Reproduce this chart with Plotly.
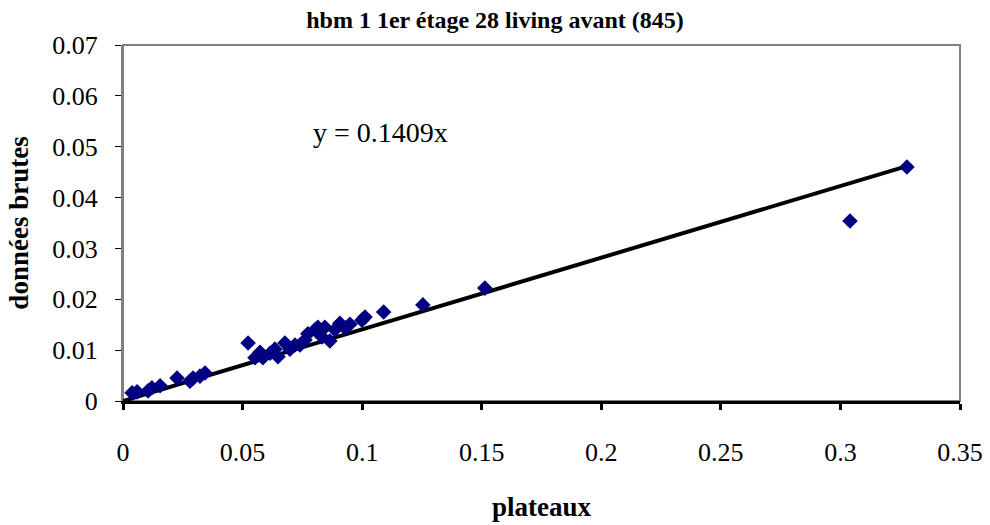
import plotly.graph_objects as go

plateaux = [0.0038, 0.0059, 0.0105, 0.0121, 0.0155, 0.0226, 0.0280, 0.0293, 0.0322, 0.0343,
            0.0523, 0.0552, 0.0573, 0.0585, 0.0615, 0.0635, 0.0648, 0.0677, 0.0698, 0.0719,
            0.0740, 0.0761, 0.0773, 0.0803, 0.0815, 0.0832, 0.0844, 0.0865, 0.0886, 0.0907,
            0.0928, 0.0949, 0.0999, 0.1012, 0.1090, 0.1254, 0.1513, 0.3040, 0.3278]
donnees = [0.0016, 0.0018, 0.0020, 0.0026, 0.0030, 0.0045, 0.0039, 0.0045, 0.0049, 0.0055,
           0.0114, 0.0085, 0.0096, 0.0085, 0.0094, 0.0102, 0.0087, 0.0114, 0.0102, 0.0110,
           0.0110, 0.0120, 0.0132, 0.0140, 0.0145, 0.0126, 0.0145, 0.0118, 0.0140, 0.0153,
           0.0144, 0.0151, 0.0159, 0.0165, 0.0175, 0.0189, 0.0222, 0.0354, 0.0460]
slope = 0.1409
x_ticks = [0, 0.05, 0.1, 0.15, 0.2, 0.25, 0.3, 0.35]
x_labels = ["0", "0.05", "0.1", "0.15", "0.2", "0.25", "0.3", "0.35"]
y_ticks = [0, 0.01, 0.02, 0.03, 0.04, 0.05, 0.06, 0.07]
y_labels = ["0", "0.01", "0.02", "0.03", "0.04", "0.05", "0.06", "0.07"]

FONT = "Liberation Serif, Times New Roman, serif"
xmax = max(plateaux)

fig = go.Figure()
fig.add_trace(go.Scatter(x=[0, xmax], y=[0, slope * xmax], mode="lines",
                         line=dict(color="black", width=4), showlegend=False, hoverinfo="skip"))
fig.add_trace(go.Scatter(x=plateaux, y=donnees, mode="markers",
                         marker=dict(symbol="diamond", size=12, color="#000080"),
                         showlegend=False))

fig.add_annotation(x=0.0785, y=0.0527, xref="x", yref="y", text=f"y = {slope}x",
                   showarrow=False, xanchor="left", yanchor="middle",
                   font=dict(family=FONT, size=28, color="black"))

fig.add_shape(type="rect", xref="paper", yref="paper", x0=0, y0=0, x1=1, y1=1,
              line=dict(color="#808080", width=2), fillcolor="rgba(0,0,0,0)", layer="below")

fig.update_layout(
    width=990, height=525,
    margin=dict(l=123, r=30, t=45, b=124, autoexpand=False),
    paper_bgcolor="white", plot_bgcolor="white",
    title=dict(text="<b>hbm 1 1er étage 28 living avant (845)</b>", x=0.5, xanchor="center",
               y=0.962, yanchor="middle", font=dict(family=FONT, size=24, color="black")),
    xaxis=dict(range=[0, 0.35], tickvals=x_ticks, ticktext=x_labels, showgrid=False,
               zeroline=False, showline=True, linecolor="black", linewidth=3,
               ticks="outside", ticklen=6, tickwidth=3, tickcolor="black",
               ticklabelstandoff=20, automargin=False,
               tickfont=dict(family=FONT, size=26, color="black"),
               title=dict(text="<b>plateaux</b>", font=dict(family=FONT, size=27, color="black"),
                          standoff=31)),
    yaxis=dict(range=[0, 0.07], tickvals=y_ticks, ticktext=y_labels, showgrid=False,
               zeroline=False, showline=True, linecolor="#808080", linewidth=2,
               ticks="outside", ticklen=6, tickwidth=1, tickcolor="black",
               ticklabelstandoff=12, automargin=False,
               tickfont=dict(family=FONT, size=26, color="black"),
               title=dict(text="<b>données brutes</b>", font=dict(family=FONT, size=27, color="black"),
                          standoff=16)),
)

fig.write_html("out.html")
